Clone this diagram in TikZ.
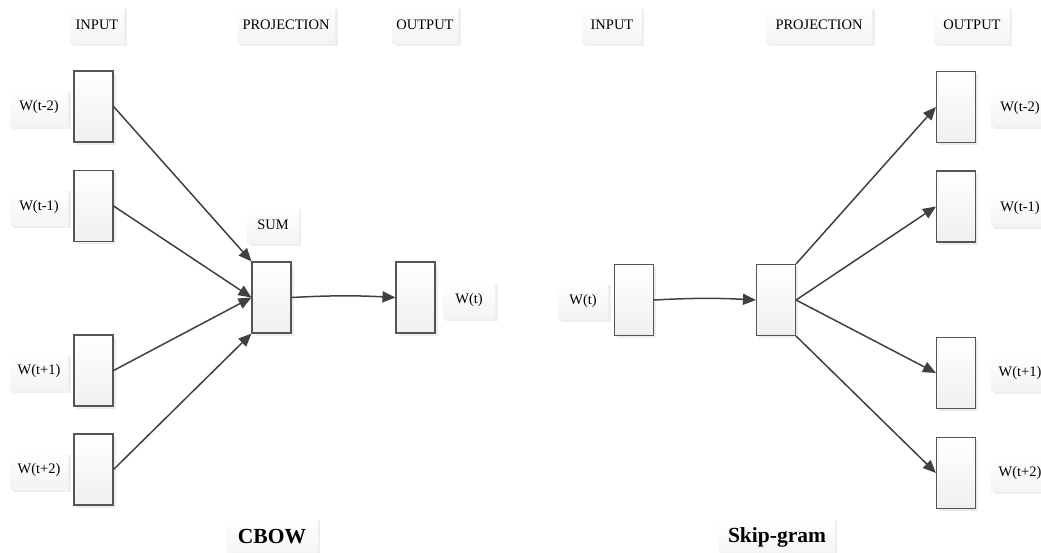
\documentclass[tikz,border=0pt]{standalone}
\usepackage{fontspec}
\setmainfont{Liberation Serif}
\usetikzlibrary{arrows.meta,shadows}
\definecolor{edgecol}{HTML}{404040}
\definecolor{boxline}{HTML}{555555}
\tikzset{
  vecbox/.style={draw=boxline, line width=1.1pt, minimum width=39pt, minimum height=71pt,
    inner sep=0pt, top color=white, bottom color=gray!12,
    drop shadow={shadow xshift=2.5pt, shadow yshift=-2.5pt, fill=gray!25, opacity=0.6}},
  tag/.style={minimum height=37pt, inner sep=0pt, top color=white, bottom color=gray!9,
    font=\fontsize{14.5}{17}\selectfont,
    drop shadow={shadow xshift=2.5pt, shadow yshift=-2.5pt, fill=gray!22, opacity=0.6}},
  title/.style={tag, minimum height=40pt, font=\fontsize{21.5}{24}\selectfont\bfseries},
  link/.style={draw=edgecol, line width=1.5pt, -{Triangle[length=13pt,width=11pt]}}
}
\begin{document}
\begin{tikzpicture}[x=1pt,y=-1pt]
\useasboundingbox (0,0) rectangle (1041,552);

% ---------------- CBOW ----------------
\node[tag, minimum width=54pt] (cIn)   at (97,25)  {INPUT};
\node[tag, minimum width=98pt] (cProj) at (286,25) {PROJECTION};
\node[tag, minimum width=66pt] (cOut)  at (425,25) {OUTPUT};

\node[vecbox] (ci1) at (93.5,106.5) {};
\node[vecbox] (ci2) at (93.5,206)   {};
\node[vecbox] (ci3) at (93.5,370.5) {};
\node[vecbox] (ci4) at (93.5,469.5) {};

\node[tag, minimum width=58pt] (cl1) at (39,107.5) {W(t-2)};
\node[tag, minimum width=58pt] (cl2) at (39,207)   {W(t-1)};
\node[tag, minimum width=58pt] (cl3) at (39,371.5) {W(t+1)};
\node[tag, minimum width=58pt] (cl4) at (39,470.5) {W(t+2)};

\node[tag, minimum width=51pt] (csum) at (273,225) {SUM};
\node[vecbox] (cp) at (271.5,297.5) {};
\node[vecbox] (co) at (415.5,297.5) {};
\node[tag, minimum width=52pt] (cwt) at (469,300) {W(t)};

\node[title, minimum width=91pt] (cbow) at (272,537) {CBOW};

\draw[link] (ci1.east) -- (cp.north west);
\draw[link] (ci2.east) -- (cp.west);
\draw[link] (ci3.east) -- (cp.west);
\draw[link] (ci4.east) -- (cp.south west);
\draw[link] (cp.east) to[bend left=3] (co.west);

% ---------------- Skip-gram ----------------
\node[tag, minimum width=59pt] (sIn)   at (612,25) {INPUT};
\node[tag, minimum width=106pt] (sProj) at (819,25) {PROJECTION};
\node[tag, minimum width=75pt] (sOut)  at (972,25) {OUTPUT};

\node[tag, minimum width=50pt] (swt) at (583,301) {W(t)};
\node[vecbox] (si) at (634,300) {};
\node[vecbox] (sp) at (776,300) {};

\node[vecbox] (so1) at (956,107) {};
\node[vecbox] (so2) at (956,206.5) {};
\node[vecbox] (so3) at (956,373) {};
\node[vecbox] (so4) at (956,473) {};

\node[tag, minimum width=58pt] (sl1) at (1020,108) {W(t-2)};
\node[tag, minimum width=58pt] (sl2) at (1020,208) {W(t-1)};
\node[tag, minimum width=58pt] (sl3) at (1020,373) {W(t+1)};
\node[tag, minimum width=58pt] (sl4) at (1020,473) {W(t+2)};

\node[title, minimum width=115pt] (skip) at (777,537) {Skip-gram};

\draw[link] (si.east) to[bend left=3] (sp.west);
\draw[link] (sp.north east) -- (so1.west);
\draw[link] (sp.east) -- (so2.west);
\draw[link] (sp.east) -- (so3.west);
\draw[link] (sp.south east) -- (so4.west);
\end{tikzpicture}
\end{document}
